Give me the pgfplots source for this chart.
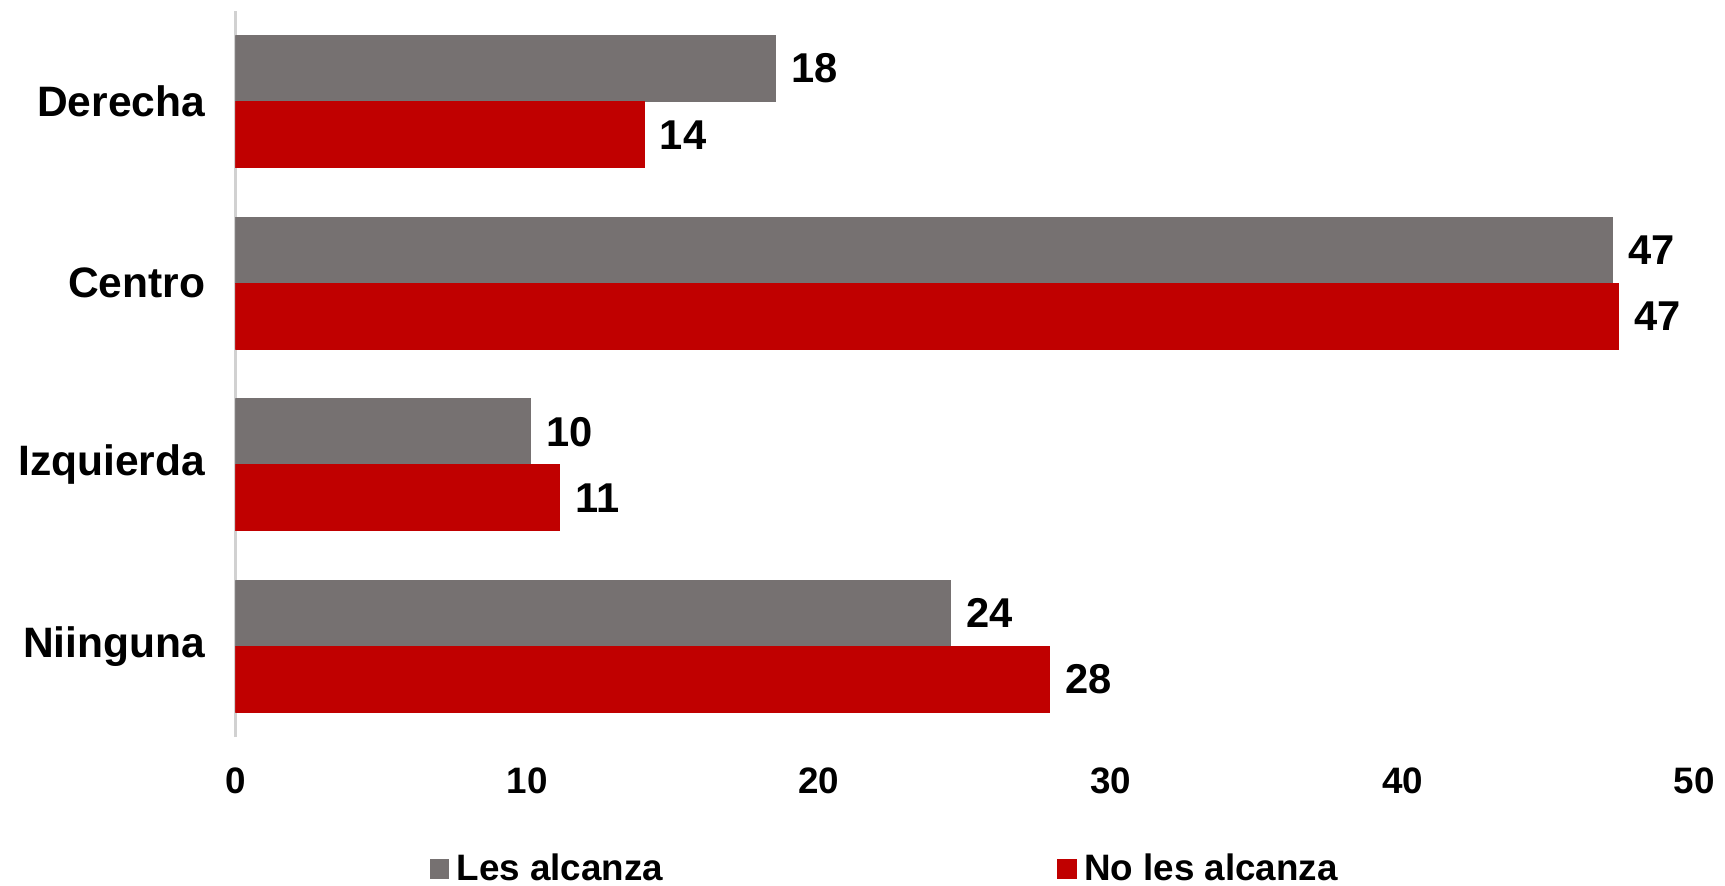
\documentclass[border=0pt]{standalone}
\usepackage{fontspec}
\setmainfont{Liberation Sans}
\usepackage{pgfplots}
\pgfplotsset{compat=1.18}
\definecolor{grisbar}{HTML}{767171}
\definecolor{rojobar}{HTML}{C00000}

\begin{document}
\begin{tikzpicture}
\begin{axis}[
    xbar=0pt,
    scale only axis,
    width=507.4pt, height=252.6pt,
    xmin=0, xmax=50,
    ymin=-0.5, ymax=3.5,
    bar width=0.364,
    xtick={0,10,...,50},
    ytick={0,1,2,3},
    yticklabels={Niinguna, Izquierda, Centro, Derecha},
    major tick length=0pt,
    axis x line*=bottom, axis y line*=left,
    x axis line style={draw=none},
    y axis line style={draw=black!18, line width=0.8pt},
    /pgf/number format/assume math mode=true,
    xticklabel style={font=\fontsize{12.8}{15}\selectfont\bfseries, yshift=-7pt},
    yticklabel style={font=\fontsize{14.8}{17}\selectfont\bfseries, xshift=-7pt},
    point meta=explicit symbolic,
    nodes near coords,
    nodes near coords style={anchor=west, xshift=2pt, font=\fontsize{14.5}{17}\selectfont\bfseries, text=black},
    legend columns=2,
    legend style={at={(0.1327,-0.182)}, anchor=west, draw=none, inner sep=0pt,
        font=\fontsize{12.8}{15}\selectfont\bfseries,
        /tikz/every even column/.append style={column sep=134.5pt},
        nodes={inner xsep=2.5pt}},
    legend image code/.code={\fill[#1] (0pt,-3.25pt) rectangle (6.5pt,3.25pt);},
]
% Les alcanza
\addplot[fill=grisbar, draw=grisbar, bar shift=0.182]
    coordinates {(18.5,3) [18] (47.2,2) [47] (10.1,1) [10] (24.5,0) [24]};
% No les alcanza
\addplot[fill=rojobar, draw=rojobar, bar shift=-0.182]
    coordinates {(14.0,3) [14] (47.4,2) [47] (11.1,1) [11] (27.9,0) [28]};
\legend{Les alcanza, No les alcanza}
\coordinate (bl) at (rel axis cs:0,0);
\coordinate (tr) at (rel axis cs:1,1);
\end{axis}
\pgfresetboundingbox
\path[use as bounding box] ([shift={(-81.9pt,-51.7pt)}]bl) rectangle ([shift={(10.7pt,3.8pt)}]tr);
\end{tikzpicture}
\end{document}
